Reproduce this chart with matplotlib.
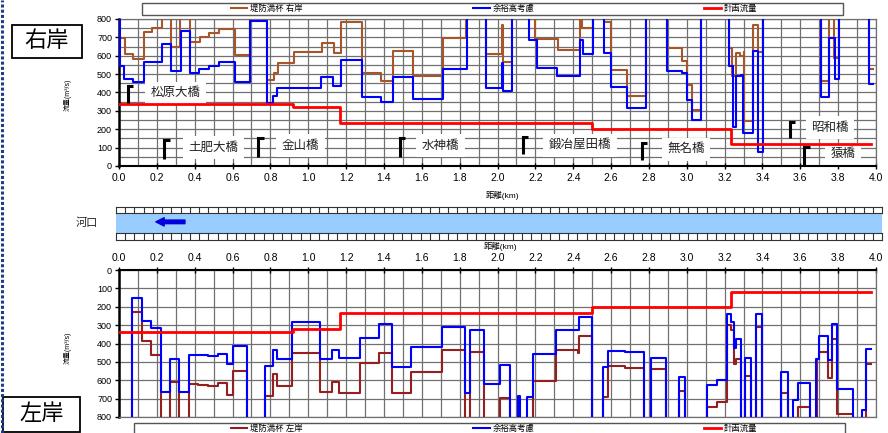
import numpy as np
import matplotlib.pyplot as plt
from matplotlib.patches import Rectangle
from matplotlib.lines import Line2D
from matplotlib.ticker import MultipleLocator

plt.rcParams['font.family'] = ['Liberation Sans', 'Noto Sans CJK JP', 'DejaVu Sans']

W, H = 888, 433
OFF = 900  # 800超 (グラフ外)

# ---- 右岸 ----
r_full_x = [0.0, 0.03, 0.076, 0.13, 0.173, 0.229, 0.275, 0.322, 0.375, 0.428, 0.477, 0.53,
            0.613, 0.69, 0.78, 0.819, 0.842, 0.923, 1.071, 1.135, 1.173, 1.282, 1.384, 1.45,
            1.555, 1.714, 1.834, 1.94, 2.022, 2.027, 2.075, 2.198, 2.318, 2.436, 2.448, 2.506,
            2.565, 2.6, 2.685, 2.783, 2.897, 2.973, 3.0, 3.026, 3.073, 3.225, 3.24, 3.26,
            3.28, 3.3, 3.305, 3.348, 3.378, 3.404, 3.712, 3.753, 3.78, 3.806, 3.963, 3.986]
r_full_q = [695, 609, 580, 727, 752, OFF, 649, OFF, 677, 703, 722, 744,
            604, OFF, 468, 504, 562, 622, 671, 613, 785, 508, 462, 626,
            490, 698, OFF, 610, 770, 567, OFF, 689, 631, OFF, 752, OFF,
            785, 522, 382, OFF, 640, 573, 441, 305, OFF, 640, 490, 613,
            600, 620, 245, 770, 622, OFF, 462, OFF, 586, OFF, 528, 528]

r_free_x = [0.0, 0.005, 0.026, 0.074, 0.13, 0.225, 0.273, 0.33, 0.375, 0.424, 0.477, 0.53,
            0.613, 0.69, 0.78, 0.815, 0.833, 1.07, 1.133, 1.173, 1.282, 1.384, 1.45, 1.555,
            1.714, 1.837, 1.94, 2.022, 2.027, 2.075, 2.168, 2.207, 2.316, 2.436, 2.454, 2.506,
            2.565, 2.6, 2.685, 2.783, 2.897, 2.973, 3.0, 3.026, 3.073, 3.225, 3.246, 3.26,
            3.285, 3.299, 3.348, 3.378, 3.404, 3.712, 3.753, 3.781, 3.806, 3.963, 3.986]
r_free_q = [OFF, 545, 473, 455, 567, 662, 517, 736, 504, 528, 546, 564,
            455, 787, 344, 381, 426, 486, 435, 577, 377, 346, 486, 364,
            528, OFF, 423, 560, 408, OFF, 685, 531, 491, 685, 607, OFF,
            613, 428, 314, OFF, 519, 508, 359, 250, OFF, 545, 214, 490,
            495, 182, 624, 76, OFF, 373, 696, 475, OFF, 444, 444]

# ---- 左岸 ----
l_full_x = [0.0, 0.067, 0.12, 0.167, 0.22, 0.27, 0.318, 0.372, 0.42, 0.472, 0.525, 0.569,
            0.604, 0.678, 0.771, 0.815, 0.833, 0.914, 1.062, 1.127, 1.164, 1.273, 1.376, 1.44,
            1.541, 1.705, 1.826, 1.855, 1.929, 2.015, 2.066, 2.19, 2.309, 2.427, 2.432, 2.497,
            2.556, 2.585, 2.674, 2.774, 2.811, 2.89, 2.961, 2.99, 3.105, 3.158, 3.214, 3.232,
            3.25, 3.26, 3.286, 3.308, 3.338, 3.367, 3.396, 3.5, 3.537, 3.59, 3.653, 3.69,
            3.7, 3.746, 3.767, 3.796, 3.877, 3.947, 3.972]
l_full_q = [OFF, 230, 385, 462, OFF, 611, OFF, 620, 626, 631, 617, 680,
            549, OFF, 684, 566, 629, 453, 665, 607, 667, 504, 453, 667,
            557, 435, OFF, 446, OFF, 695, OFF, 604, 435, 452, 357, OFF,
            689, 522, 531, OFF, 539, OFF, 657, OFF, 744, 716, 299, 326,
            513, 484, OFF, 575, OFF, 312, OFF, 671, OFF, 747, OFF, 486,
            446, 587, 376, 781, OFF, 511, 511]

l_free_x = [0.0, 0.067, 0.12, 0.167, 0.22, 0.27, 0.318, 0.372, 0.472, 0.525, 0.569, 0.604,
            0.678, 0.771, 0.815, 0.833, 0.912, 1.062, 1.127, 1.164, 1.273, 1.376, 1.44, 1.541,
            1.705, 1.828, 1.855, 1.929, 2.015, 2.066, 2.11, 2.12, 2.158, 2.19, 2.309, 2.43,
            2.497, 2.556, 2.582, 2.674, 2.774, 2.811, 2.89, 2.961, 2.99, 3.105, 3.158, 3.213,
            3.233, 3.25, 3.26, 3.286, 3.308, 3.338, 3.367, 3.396, 3.5, 3.537, 3.56, 3.59,
            3.653, 3.683, 3.7, 3.746, 3.767, 3.796, 3.877, 3.928, 3.947, 3.972]
l_free_q = [OFF, 154, 276, 317, 662, 484, 665, 462, 466, 457, 511, 413,
            OFF, 522, 435, 484, 285, 484, 435, 477, 372, 296, 526, 421,
            312, 670, 325, 621, 515, OFF, 687, OFF, 692, 458, 326, 257,
            OFF, 529, 439, 444, OFF, 481, OFF, 584, OFF, 627, 596, 237,
            283, 426, 375, OFF, 481, OFF, 240, OFF, 557, OFF, 707, 613,
            OFF, 486, 361, 490, 295, 649, OFF, 762, 431, 431]

# ---- 計画流量 ----
plan_x = [0.0, 0.92, 1.17, 2.50, 3.235, 3.975]
plan_q = [340, 320, 232, 200, 120, 120]

# ---- 橋 ----
bridge_names = ["松原大橋", "土肥大橋", "金山橋", "水神橋", "鍛冶屋田橋", "無名橋", "昭和橋", "猿橋"]
bridge_km = [0.045, 0.24, 0.737, 1.485, 2.133, 2.762, 3.546, 3.621]
mark_lo = [343, 38, 49, 49, 65, 33, 152, 0]
mark_hi = [435, 141, 152, 152, 158, 125, 239, 103]
label_km = [0.30, 0.50, 0.96, 1.70, 2.435, 2.995, 3.757, 3.825]
label_q = [397, 100, 109, 109, 114, 92, 208, 65]

C_R = '#A8552A'
C_L = '#951E1E'
C_B = '#0000FF'
C_P = '#FF0000'
GRID = '#707070'


def fx(px):
    return px / W


def fy(py):
    return 1 - py / H


fig = plt.figure(figsize=(8.88, 4.33), dpi=100)

# left dashed border
fig.add_artist(Line2D([fx(2), fx(2)], [0, 1], transform=fig.transFigure,
                      color='#1F3C88', lw=2.2, linestyle=(0, (1, 0.7))))


def setup(ax, ymin_step):
    ax.set_xlim(0, 4)
    ax.set_ylim(0, 800)
    ax.xaxis.set_major_locator(MultipleLocator(0.2))
    ax.xaxis.set_minor_locator(MultipleLocator(0.1))
    ax.yaxis.set_major_locator(MultipleLocator(100))
    ax.yaxis.set_minor_locator(MultipleLocator(ymin_step))
    ax.grid(True, which='both', color=GRID, lw=0.9)
    ax.set_axisbelow(True)
    ax.tick_params(axis='x', which='major', direction='inout', length=4, width=1, labelsize=7.5, pad=3)
    ax.tick_params(axis='x', which='minor', length=0)
    ax.tick_params(axis='y', which='major', direction='out', length=3, width=1, labelsize=6.5, pad=2)
    ax.tick_params(axis='y', which='minor', length=0)
    ax.xaxis.set_major_formatter(plt.FuncFormatter(lambda v, p: f"{v:.1f}"))
    for s in ax.spines.values():
        s.set_color(GRID)
        s.set_linewidth(0.9)
    ax.spines['left'].set_color('black')
    ax.spines['left'].set_linewidth(1.8)


# ---- 右岸 chart ----
ax1 = fig.add_axes([fx(119), fy(166), 757 / W, 147 / H])
setup(ax1, 50)
ax1.spines['bottom'].set_color('black')
ax1.spines['bottom'].set_linewidth(1.5)
ax1.step(r_full_x, r_full_q, where='post', color=C_R, lw=1.5, zorder=3)
ax1.step(r_free_x, r_free_q, where='post', color=C_B, lw=1.5, zorder=4)
ax1.step(plan_x, plan_q, where='post', color=C_P, lw=2.0, zorder=5)

for name, bk, lo, hi, lk, lq in zip(bridge_names, bridge_km, mark_lo, mark_hi, label_km, label_q):
    ax1.plot([bk, bk, bk + 0.028], [lo, hi, hi], color='black', lw=2.2,
             solid_capstyle='butt', solid_joinstyle='miter', zorder=6)
    ax1.text(lk, lq, name, ha='center', va='center', fontsize=9, color='#222222', zorder=2.5,
             bbox=dict(fc='white', ec='none', pad=4))

# ---- 左岸 chart ----
ax2 = fig.add_axes([fx(119), fy(417), 757 / W, 147 / H])
setup(ax2, 100)
ax2.invert_yaxis()
ax2.xaxis.tick_top()
ax2.spines['top'].set_color('black')
ax2.spines['top'].set_linewidth(1.5)
ax2.tick_params(axis='x', which='major', pad=3)
ax2.step(l_full_x, l_full_q, where='post', color=C_L, lw=1.5, zorder=3)
ax2.step(l_free_x, l_free_q, where='post', color=C_B, lw=1.5, zorder=4)
ax2.step(plan_x, plan_q, where='post', color=C_P, lw=2.0, zorder=5)

# ---- river strip ----
ax3 = fig.add_axes([fx(116), fy(240), 766 / W, 33 / H])
ax3.set_xlim(0, 1)
ax3.set_ylim(0, 1)
ax3.axis('off')
b0, b1 = 7 / 33, 27 / 33
ax3.add_patch(Rectangle((0, b0), 1, b1 - b0, fc='#99CCFF', ec='none'))
for y in [0.0, b0, b1, 1.0]:
    ax3.plot([0, 1], [y, y], color='#333333', lw=0.8, clip_on=False)
for xv in np.linspace(0, 1, 84):
    ax3.plot([xv, xv], [0, b0], color='#333333', lw=0.8, clip_on=False)
    ax3.plot([xv, xv], [b1, 1], color='#333333', lw=0.8, clip_on=False)
ax3.annotate('', xy=(0.052, 0.55), xytext=(0.09, 0.55),
             arrowprops=dict(facecolor='#0000DD', edgecolor='#0000DD', width=2.6, headwidth=6,
                             headlength=6))
fig.text(fx(87), fy(223), '河口', fontsize=8, ha='center', va='center', color='#222222')

# axis titles
fig.text(fx(502), fy(195), '距離(km)', fontsize=6, ha='center', va='center')
fig.text(fx(500), fy(247), '距離(km)', fontsize=6, ha='center', va='center')
fig.text(fx(68), fy(95), '流量(m³/s)', fontsize=5, ha='center', va='center', rotation=90)
fig.text(fx(68), fy(348), '流量(m³/s)', fontsize=5, ha='center', va='center', rotation=90)

# bank labels
for (x0, y0, x1, y1), t in [((12, 25, 82, 58), '右岸'), ((3, 397, 80, 432), '左岸')]:
    fig.add_artist(Rectangle((fx(x0), fy(y1)), (x1 - x0) / W, (y1 - y0) / H,
                             transform=fig.transFigure, fc='white', ec='black', lw=1.3))
    fig.text(fx((x0 + x1) / 2), fy((y0 + y1) / 2), t, fontsize=16, ha='center', va='center')


# legends
def legend_box(x0, x1, y0, y1, c_full, full_label, yc):
    fig.add_artist(Rectangle((fx(x0), fy(y1)), (x1 - x0) / W, (y1 - y0) / H,
                             transform=fig.transFigure, fc='white', ec='#555555', lw=1.0,
                             zorder=1))
    hs = [Line2D([], [], color=c_full, lw=1.5), Line2D([], [], color=C_B, lw=1.5),
          Line2D([], [], color=C_P, lw=2.0)]
    leg = fig.legend(hs, [full_label, '余裕高考慮', '計画流量'], loc='center',
                     bbox_to_anchor=(fx(494), fy(yc)), ncol=3,
                     frameon=False, fontsize=6, handlelength=2.0, handletextpad=0.35,
                     columnspacing=20.4, borderpad=0, borderaxespad=0)
    leg.set_zorder(6)


legend_box(142, 843, 3, 15, C_R, '堤防満杯 右岸', 9)
legend_box(134, 845, 423, 437, C_L, '堤防満杯 左岸', 429)

fig.savefig('out.png', dpi=100)
